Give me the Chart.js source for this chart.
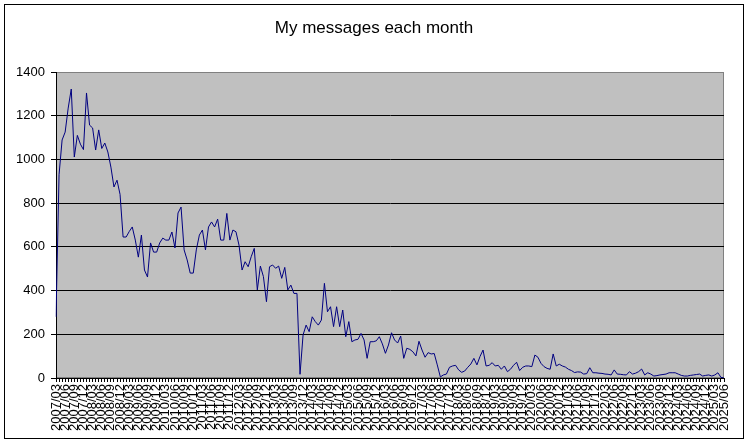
<!DOCTYPE html>
<html>
<head>
<meta charset="utf-8">
<script src="https://cdn.jsdelivr.net/npm/chart.js@4.4.1/dist/chart.umd.min.js"></script>
<style>
  html, body { margin: 0; padding: 0; background: #fff; }
</style>
</head>
<body>
<canvas id="msgChart" width="749" height="444"></canvas>
<script>
// months from 2007/03 to 2025/06
const startYear = 2007;
const startMonth = 3;

// messages per month, one row per year (2007 starts in March, 2025 stops in June)
const messages = [
  280, 930, 1089, 1125, 1235, 1322, 1011, 1110, 1070, 1045,
  1304, 1157, 1144, 1043, 1135, 1050, 1075, 1034, 965, 874, 905, 840,
  645, 645, 670, 691, 631, 553, 654, 494, 462, 618, 576, 576,
  618, 640, 631, 631, 668, 595, 755, 782, 586, 540, 480, 480,
  586, 654, 677, 586, 691, 714, 691, 727, 631, 631, 753, 631,
  677, 669, 608, 494, 532, 509, 555, 593, 403, 512, 464, 349,
  509, 517, 502, 512, 456, 506, 403, 425, 387, 387, 17, 197,
  242, 212, 280, 258, 242, 265, 433, 303, 326, 235, 326, 235,
  311, 189, 258, 166, 174, 177, 204, 174, 90, 166, 166, 170,
  189, 156, 113, 151, 207, 174, 160, 192, 90, 136, 131, 120,
  101, 168, 128, 95, 116, 110, 112, 60, 5, 14, 18, 49,
  55, 58, 37, 26, 32, 49, 64, 90, 60, 98, 128, 55,
  58, 70, 55, 58, 40, 55, 29, 40, 58, 72, 34, 49,
  55, 55, 52, 105, 95, 67, 52, 44, 40, 110, 55, 63,
  55, 50, 40, 34, 25, 28, 27, 18, 20, 47, 24, 24,
  22, 21, 18, 17, 14, 37, 18, 17, 15, 14, 29, 18,
  22, 29, 41, 14, 24, 18, 9, 11, 14, 16, 18, 24,
  24, 24, 18, 12, 9, 9, 12, 14, 16, 18, 9, 12,
  14, 9, 14, 24, 3, 0
];

const yTicks = [0, 200, 400, 600, 800, 1000, 1200, 1400];
const chartTitle = "My messages each month";

// labels "2007/03", "2007/04", ...
const months = messages.map((v, i) => {
  const m = startMonth - 1 + i;
  const y = startYear + Math.floor(m / 12);
  return y + "/" + String((m % 12) + 1).padStart(2, "0");
});

// achtergrond, kader, grijs plotvlak en titel (gecentreerd op het hele kader)
const excelFrame = {
  id: "excelFrame",
  beforeDraw(chart) {
    const { ctx, chartArea: a } = chart;
    ctx.save();
    ctx.fillStyle = "#fff";
    ctx.fillRect(0, 0, chart.width, chart.height);
    ctx.strokeStyle = "#000";
    ctx.lineWidth = 1;
    ctx.strokeRect(4.5, 4.5, 739, 434);
    ctx.fillStyle = "#c0c0c0";
    ctx.fillRect(a.left, a.top, a.right - a.left, a.bottom - a.top);
    ctx.strokeStyle = "#808080";
    ctx.strokeRect(a.left + 0.5, a.top + 0.5, a.right - a.left - 1, a.bottom - a.top - 1);
    ctx.restore();
  },
  afterDraw(chart) {
    const ctx = chart.ctx;
    ctx.save();
    ctx.fillStyle = "#000";
    ctx.font = "17px 'Liberation Sans', Arial, sans-serif";
    ctx.textAlign = "center";
    ctx.textBaseline = "middle";
    ctx.fillText(chartTitle, 374, 28);
    ctx.restore();
  },
};

Chart.defaults.font.family = "'Liberation Sans', Arial, sans-serif";
Chart.defaults.color = "#000";

new Chart(document.getElementById("msgChart"), {
  type: "line",
  data: {
    labels: months,
    datasets: [
      {
        label: "Messages",
        data: messages,
        borderColor: "#000080",
        borderWidth: 1,
        pointRadius: 0,
        tension: 0,
        fill: false,
      },
    ],
  },
  options: {
    responsive: false,
    animation: false,
    layout: { padding: { left: 0, right: 25, top: 72, bottom: 0 } },
    plugins: {
      legend: { display: false },
      tooltip: { enabled: false },
      title: { display: false },
    },
    scales: {
      x: {
        offset: false,
        afterFit: (scale) => { scale.height = 66; },
        grid: {
          drawOnChartArea: false,
          drawTicks: true,
          tickLength: 4,
          color: "#000",
        },
        border: { color: "#000", width: 1 },
        ticks: {
          autoSkip: false,
          maxRotation: 90,
          minRotation: 90,
          padding: 2,
          font: { size: 13 },
          callback: function (val, i) {
            return i % 3 === 0 ? this.getLabelForValue(val) : "";
          },
        },
      },
      y: {
        min: yTicks[0],
        max: yTicks[yTicks.length - 1],
        afterFit: (scale) => { scale.width = 56; },
        afterBuildTicks: (scale) => {
          scale.ticks = yTicks.map((v) => ({ value: v }));
        },
        grid: {
          color: (c) => (c.tick && c.tick.value === 1400 ? "#808080" : "#000"),
          tickColor: "#000",
          tickLength: 5,
          lineWidth: 1,
        },
        border: { color: "#000", width: 1 },
        ticks: {
          padding: 6,
          font: { size: 13 },
          callback: (v) => String(v),
        },
      },
    },
  },
  plugins: [excelFrame],
});
</script>
</body>
</html>
